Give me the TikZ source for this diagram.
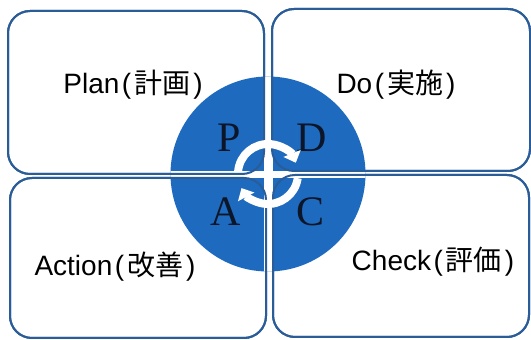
\documentclass[tikz,border=0pt]{standalone}
\usepackage{fontspec}
\newfontfamily\jpfont{Noto Sans CJK JP}
\newfontfamily\latinsans{Liberation Sans}
\newfontfamily\seriffont{Liberation Serif}
\usetikzlibrary{arrows.meta}
\definecolor{ringblue}{RGB}{30,106,190}
\definecolor{edgeblue}{RGB}{42,92,152}
\definecolor{letterink}{RGB}{12,22,40}
\newcommand\pdcalabel[2]{{\latinsans #1}\hspace{2.5pt}{\latinsans (}\hspace{3pt}{\jpfont #2}\hspace{3pt}{\latinsans )}}
\tikzset{
  quadbox/.style={draw=edgeblue, line width=2pt, rounded corners=22pt, fill=white},
  quadedge/.style={draw=edgeblue, line width=2pt, rounded corners=22pt},
  quadlabel/.style={font=\fontsize{28}{30}\selectfont, inner sep=0pt, text=black},
  pdcaletter/.style={font=\seriffont\fontsize{42}{44}\selectfont, inner sep=0pt, text=letterink},
  cyclearrow/.style={white, line width=8pt, -{Triangle[length=10pt,width=18pt]}}
}
\begin{document}
\begin{tikzpicture}[x=1pt,y=1pt]
\useasboundingbox (0,0) rectangle (531,340);
% boxes
\path[quadbox] (8,166) rectangle (264,329);
\path[quadbox] (272,169) rectangle (530,331);
\path[quadbox] (10,2) rectangle (266,162);
\path[quadbox] (273,3) rectangle (529,165);
% circle
\node[circle, fill=ringblue, minimum size=195pt, inner sep=0pt] (hub) at (268,166) {};
% white gaps through circle
\begin{scope}
  \clip (hub.center) circle[radius=97.5];
  \fill[white] (264,60) rectangle (273,280);
  \fill[white] (150,162) rectangle (400,169);
\end{scope}
% box outlines on top
\draw[quadedge] (8,166) rectangle (264,329);
\draw[quadedge] (272,169) rectangle (530,331);
\draw[quadedge] (10,2) rectangle (266,162);
\draw[quadedge] (273,3) rectangle (529,165);
% labels
\node[quadlabel] (plan) at (133,255) {\pdcalabel{Plan}{計画}};
\node[quadlabel] (do) at (396,255) {\pdcalabel{Do}{実施}};
\node[quadlabel] (act) at (115,73) {\pdcalabel{Action}{改善}};
\node[quadlabel] (check) at (433,78) {\pdcalabel{Check}{評価}};
% letters
\node[pdcaletter] (lp) at (229,202) {P};
\node[pdcaletter] (ld) at (312,202) {D};
\node[pdcaletter] (la) at (226,128) {A};
\node[pdcaletter] (lc) at (311,128) {C};
% cycle arrows
\draw[cyclearrow] ([shift={(175:30)}]hub.center) arc[start angle=175, end angle=22, radius=30];
\draw[cyclearrow] ([shift={(-8:30)}]hub.center) arc[start angle=-8, end angle=-152, radius=30];
\end{tikzpicture}
\end{document}
